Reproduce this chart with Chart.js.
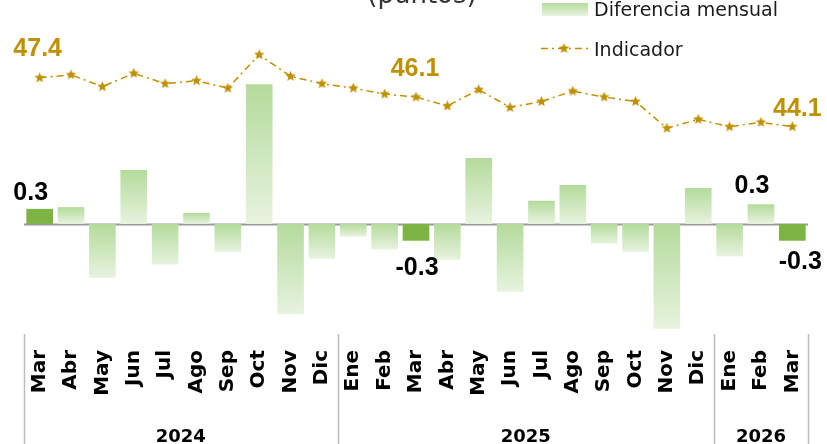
<!DOCTYPE html>
<html>
<head>
<meta charset="utf-8">
<script src="https://cdn.jsdelivr.net/npm/chart.js@4.4.1/dist/chart.umd.min.js"></script>
<style>
  html, body { margin: 0; padding: 0; background: #fff; overflow: hidden; }
</style>
</head>
<body>
<canvas id="chart" width="827" height="444"></canvas>
<script>
// data
const months = ['Mar', 'Abr', 'May', 'Jun', 'Jul', 'Ago', 'Sep', 'Oct', 'Nov', 'Dic',
    'Ene', 'Feb', 'Mar', 'Abr', 'May', 'Jun', 'Jul', 'Ago', 'Sep', 'Oct', 'Nov', 'Dic',
    'Ene', 'Feb', 'Mar'];
const years = ['2024', '2025', '2026'];
const monthsPerYear = [10, 12, 3];
const monthlyDiff = [0.26, 0.29, -0.93, 0.93, -0.70, 0.19, -0.48, 2.41, -1.56, -0.60,
    -0.22, -0.44, -0.29, -0.62, 1.14, -1.17, 0.40, 0.67, -0.34, -0.48, -1.81, 0.62,
    -0.56, 0.34, -0.29];
const indicator = [47.4, 47.6, 46.8, 47.7, 47.0, 47.2, 46.7, 48.95, 47.5, 47.0,
    46.7, 46.3, 46.1, 45.5, 46.6, 45.4, 45.8, 46.5, 46.1, 45.8, 44.0, 44.6,
    44.1, 44.4, 44.1];
const highlightBars = [0, 12, 24];
const labeledBars = [0, 12, 23, 24];
const labeledPoints = [0, 12, 24];

const GOLD = '#BF9000';
const GREEN_DARK = '#7DB443';
const GREEN_TOP = '#B4DB9B';
const GREEN_BOTTOM = '#E7F3DF';

function makeStar(size, color) {
    const c = document.createElement('canvas');
    c.width = c.height = size;
    const g = c.getContext('2d');
    const r = size / 2, ri = r * 0.45;
    g.beginPath();
    for (let k = 0; k < 10; k++) {
        const rad = k % 2 ? ri : r;
        const a = -Math.PI / 2 + k * Math.PI / 5;
        g.lineTo(r + rad * Math.cos(a), r + rad * Math.sin(a));
    }
    g.closePath();
    g.fillStyle = color;
    g.fill();
    return c;
}
const starImg = makeStar(11, GOLD);

/**
 * gradient per bar, dark side at the zero line end
 */
function barFill(ctx) {
    const i = ctx.dataIndex;
    if (highlightBars.includes(i)) return GREEN_DARK;
    const chart = ctx.chart;
    const yScale = chart.scales.y;
    if (!chart.chartArea || !yScale) return '#C8E5B5';
    const y0 = yScale.getPixelForValue(0);
    const y1 = yScale.getPixelForValue(monthlyDiff[i]);
    const top = Math.min(y0, y1), bottom = Math.max(y0, y1);
    const g = chart.ctx.createLinearGradient(0, top, 0, bottom + 0.01);
    g.addColorStop(0, GREEN_TOP);
    g.addColorStop(1, GREEN_BOTTOM);
    return g;
}

// label nudges [dx, dy] relative to bar end / point
const barLabelNudge = { 0: [-9, -16], 12: [1, 27], 23: [-9, -18], 24: [8, 21] };
const pointLabelNudge = { 0: [-2, -29], 12: [-1, -28], 24: [5, -18] };

const decorPlugin = {
    id: 'decor',
    beforeDatasetsDraw(chart) {
        const { ctx, chartArea, scales } = chart;
        const y0 = Math.round(scales.y.getPixelForValue(0)) + 0.5;
        ctx.save();
        ctx.strokeStyle = '#9A9A9A';
        ctx.lineWidth = 2;
        ctx.beginPath();
        ctx.moveTo(chartArea.left, y0);
        ctx.lineTo(chartArea.right, y0);
        ctx.stroke();
        ctx.restore();
    },
    afterDraw(chart) {
        const { ctx, chartArea } = chart;
        const step = (chartArea.right - chartArea.left) / months.length;
        ctx.save();

        // year separators and year labels
        ctx.strokeStyle = '#BDBDBD';
        ctx.lineWidth = 1.5;
        let start = 0;
        const bounds = [0];
        monthsPerYear.forEach(n => { start += n; bounds.push(start); });
        bounds.forEach(b => {
            const px = Math.round(chartArea.left + b * step) + 0.5;
            ctx.beginPath();
            ctx.moveTo(px, chartArea.bottom);
            ctx.lineTo(px, 444);
            ctx.stroke();
        });
        ctx.fillStyle = '#000';
        ctx.font = 'bold 18px "DejaVu Sans"';
        ctx.textAlign = 'center';
        ctx.textBaseline = 'alphabetic';
        years.forEach((yr, k) => {
            const cx = chartArea.left + (bounds[k] + bounds[k + 1]) / 2 * step;
            ctx.fillText(yr, cx, 442);
        });

        // bar labels
        const barMeta = chart.getDatasetMeta(0);
        ctx.font = 'bold 25px "Liberation Sans"';
        ctx.textBaseline = 'middle';
        ctx.fillStyle = '#000';
        labeledBars.forEach(i => {
            const el = barMeta.data[i];
            const [dx, dy] = barLabelNudge[i] || [0, 0];
            ctx.fillText(monthlyDiff[i].toFixed(1), el.x + dx, el.y + dy);
        });

        // indicator labels
        const lineMeta = chart.getDatasetMeta(1);
        ctx.fillStyle = GOLD;
        labeledPoints.forEach(i => {
            const el = lineMeta.data[i];
            const [dx, dy] = pointLabelNudge[i] || [0, 0];
            ctx.fillText(indicator[i].toFixed(1), el.x + dx, el.y + dy);
        });

        // title (cut off at the top like the reference)
        ctx.fillStyle = '#333';
        ctx.font = '26px "DejaVu Sans"';
        ctx.textBaseline = 'alphabetic';
        ctx.fillText('(puntos)', 422, 3);

        // legend
        const lg = ctx.createLinearGradient(0, 3, 0, 16);
        lg.addColorStop(0, GREEN_TOP);
        lg.addColorStop(1, GREEN_BOTTOM);
        ctx.fillStyle = lg;
        ctx.fillRect(542, 3, 46, 13);
        ctx.strokeStyle = GOLD;
        ctx.lineWidth = 1.5;
        ctx.setLineDash([7, 4, 2, 4]);
        ctx.beginPath();
        ctx.moveTo(541, 48.5);
        ctx.lineTo(588, 48.5);
        ctx.stroke();
        ctx.setLineDash([]);
        ctx.drawImage(starImg, 564 - 5.5, 48.5 - 5.5);
        ctx.fillStyle = '#1A1A1A';
        ctx.font = '19px "DejaVu Sans"';
        ctx.textAlign = 'left';
        ctx.fillText('Diferencia mensual', 594, 16);
        ctx.fillText('Indicador', 594, 56);

        ctx.restore();
    }
};

new Chart(document.getElementById('chart'), {
    data: {
        labels: months,
        datasets: [
            {
                type: 'bar',
                label: 'Diferencia mensual',
                data: monthlyDiff,
                yAxisID: 'y',
                backgroundColor: barFill,
                borderWidth: 0,
                categoryPercentage: 1,
                barPercentage: 0.85,
                order: 2
            },
            {
                type: 'line',
                label: 'Indicador',
                data: indicator,
                yAxisID: 'y1',
                borderColor: GOLD,
                borderWidth: 1.5,
                borderDash: [7, 4, 2, 4],
                pointStyle: starImg,
                pointRadius: 5,
                tension: 0,
                fill: false,
                order: 1
            }
        ]
    },
    options: {
        responsive: false,
        animation: false,
        layout: {
            padding: { top: 20, left: 24, right: 19, bottom: 0 }
        },
        plugins: {
            legend: { display: false },
            title: { display: false },
            tooltip: { enabled: false }
        },
        scales: {
            x: {
                grid: { display: false, drawTicks: false },
                border: { display: false },
                afterFit(scale) {
                    scale.height = 110;
                    // keep the rotated labels from eating into the side margins
                    scale.paddingLeft = 0;
                    scale.paddingRight = 0;
                },
                ticks: {
                    autoSkip: false,
                    minRotation: 90,
                    maxRotation: 90,
                    padding: 16,
                    color: '#000',
                    font: { family: '"DejaVu Sans"', size: 20, weight: 'bold' }
                }
            },
            y: {
                display: false,
                min: -1.9,
                max: 3.52
            },
            y1: {
                display: false,
                min: 30.14,
                max: 51.29
            }
        }
    },
    plugins: [decorPlugin]
});
</script>
</body>
</html>
